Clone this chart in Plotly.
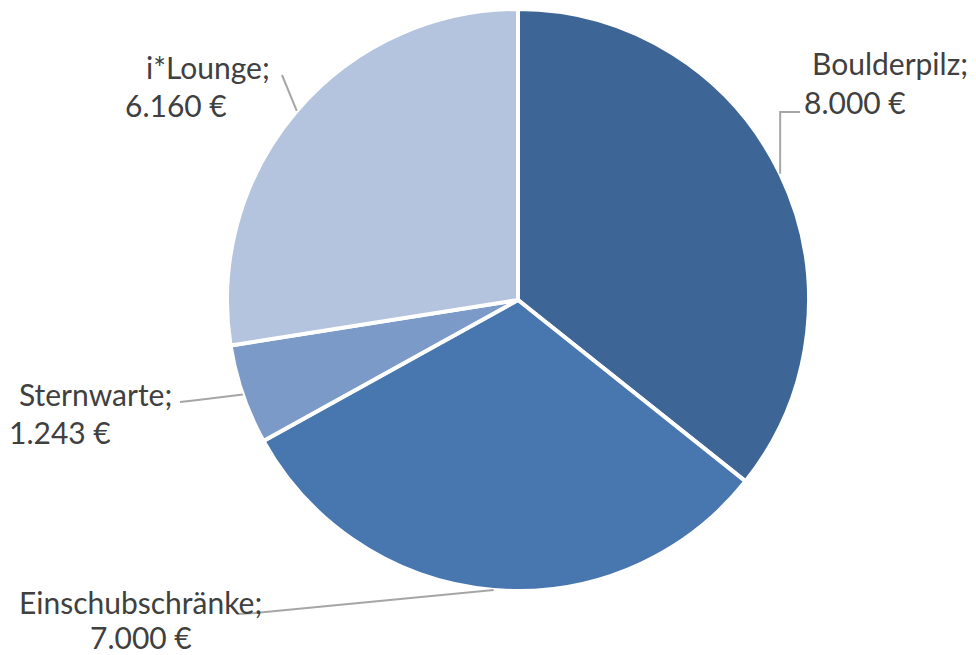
import math
import plotly.graph_objects as go

categories = ["Boulderpilz", "Einschubschränke", "Sternwarte", "i*Lounge"]
values = [8000, 7000, 1243, 6160]
value_labels = ["8.000 €", "7.000 €", "1.243 €", "6.160 €"]
colors = ["#3D6696", "#4877B0", "#7C9AC8", "#B4C3DE"]

# the page body adds an 8px margin, so the figure starts 8px in
OFF = 8
W, H = 976 - OFF, 655 - OFF
CX, CY, R = 518, 300, 291

# label layout (window-pixel positions of each text line centre, and leader elbows)
label_pos = {
    "Boulderpilz": [(890, 63), (855, 102)],
    "Einschubschränke": [(140, 602), (141, 637)],
    "Sternwarte": [(95, 394), (60, 432)],
    "i*Lounge": [(208, 67), (176, 105)],
}
leader_pts = {
    "Boulderpilz": [(None, 112), (800, 112)],
    "Einschubschränke": [(255, 613), (237, 614)],
    "Sternwarte": [(198, 400), (180, 402)],
    "i*Lounge": [(282, 75)],
}

def px(x):
    return (x - OFF) / W

def py(y):
    return 1 - (y - OFF) / H

fig = go.Figure(go.Pie(
    labels=categories,
    values=values,
    sort=False,
    direction="clockwise",
    rotation=0,
    marker=dict(colors=colors, line=dict(color="white", width=4)),
    textinfo="none",
    hoverinfo="label+value",
    showlegend=False,
    domain=dict(x=[px(CX - R), px(CX + R)], y=[py(CY + R), py(CY - R)]),
))

annotations = []
shapes = []
total = sum(values)
cum = 0
for cat, v, vl in zip(categories, values, value_labels):
    mid = (cum + v / 2) / total * 2 * math.pi
    cum += v
    ax = CX + R * math.sin(mid)
    ay = CY - R * math.cos(mid)
    pts = [(ax, ay)]
    for (ex, ey) in leader_pts[cat]:
        pts.append((ax if ex is None else ex, ey))
    path = "M " + " L ".join(f"{px(x):.5f},{py(y):.5f}" for x, y in pts)
    shapes.append(dict(type="path", path=path, xref="paper", yref="paper",
                       line=dict(color="#A6A6A6", width=2)))
    for text, (tx, ty) in zip([cat + ";", vl], label_pos[cat]):
        annotations.append(dict(
            text=text, x=px(tx), y=py(ty), xref="paper", yref="paper",
            xanchor="center", yanchor="middle", showarrow=False,
            font=dict(family="Lato", size=30, color="#404040"),
        ))

fig.update_layout(
    width=W, height=H,
    margin=dict(l=0, r=0, t=0, b=0),
    paper_bgcolor="white",
    plot_bgcolor="white",
    annotations=annotations,
    shapes=shapes,
)

fig.write_html("out.html")
